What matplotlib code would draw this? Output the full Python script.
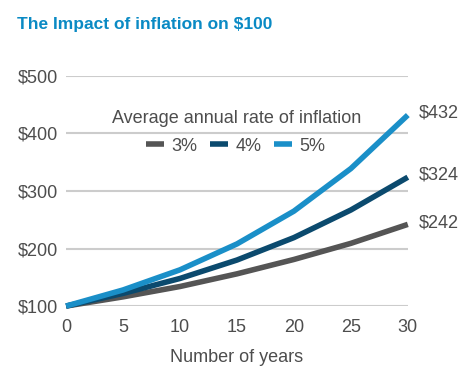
import matplotlib.pyplot as plt

years = [0, 5, 10, 15, 20, 25, 30]
rate_labels = ["3%", "4%", "5%"]
value_3 = [100, 116, 134, 156, 181, 209, 242]
value_4 = [100, 122, 148, 180, 219, 267, 324]
value_5 = [100, 128, 163, 208, 265, 339, 432]
end_labels = ["$242", "$324", "$432"]
y_ticks = [100, 200, 300, 400, 500]
x_ticks = [0, 5, 10, 15, 20, 25, 30]

plt.rcParams['font.family'] = ['Liberation Sans', 'DejaVu Sans']

colors = ["#555555", "#0b4a6e", "#1a8fc8"]
txt = "#4d4d4d"

fig = plt.figure(figsize=(4.72, 3.76), dpi=100)
ax = fig.add_axes([0.14, 0.186, 0.724, 0.612])

series = [value_3, value_4, value_5]
handles = []
for vals, c, lab in zip(series, colors, rate_labels):
    h, = ax.plot(years, vals, color=c, lw=4, solid_capstyle='butt', clip_on=False, zorder=3, label=lab)
    handles.append(h)

# value at the end of each line
for vals, lab in zip(series, end_labels):
    ax.text(31.0, vals[-1] + 3, lab, fontsize=13, color=txt, va='center', ha='left')

ax.set_xlim(0, 30)
ax.set_ylim(100, 500)
ax.set_yticks(y_ticks)
ax.set_yticklabels(["$%d" % v for v in y_ticks])
ax.set_xticks(x_ticks)
ax.tick_params(length=0, labelsize=13, labelcolor=txt)
ax.tick_params(axis='x', pad=9)
ax.tick_params(axis='y', pad=6)
ax.grid(axis='y', color='#cccccc', lw=1.5)
ax.set_axisbelow(True)
for s in ax.spines.values():
    s.set_visible(False)
ax.set_xlabel("Number of years", fontsize=13, color=txt, labelpad=10)

# legend title drawn separately so it sits above the $400 gridline
fig.text(0.502, 0.685, "Average annual rate of inflation", fontsize=13, color=txt,
         ha='center', va='center')
leg = ax.legend(handles=handles, ncol=3, loc='center', bbox_to_anchor=(0.497, 0.695),
                frameon=False, fontsize=13, handlelength=1.0, handletextpad=0.4,
                columnspacing=0.7, borderpad=0, borderaxespad=0)
for t in leg.get_texts():
    t.set_color(txt)

fig.text(0.036, 0.935, "The Impact of inflation on $100", fontsize=12.5, fontweight='bold',
         color="#0a8ac4", ha='left', va='center')

fig.savefig("out.png", dpi=100)
